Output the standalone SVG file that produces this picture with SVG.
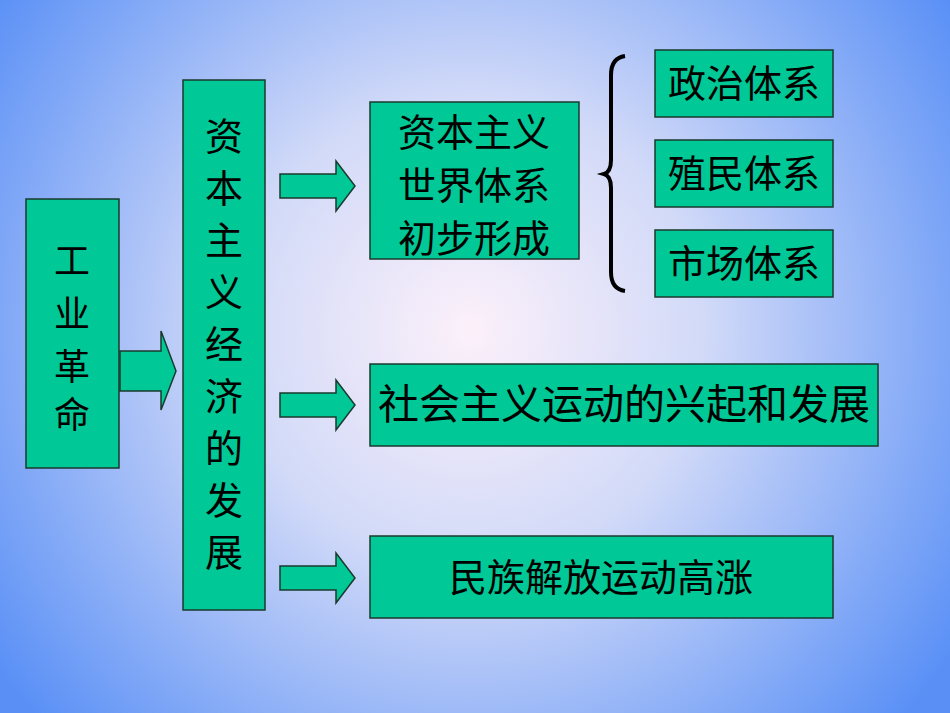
<svg xmlns="http://www.w3.org/2000/svg" width="950" height="713" viewBox="0 0 950 713">
<defs>
<radialGradient id="bg" cx="470" cy="330" r="580" gradientUnits="userSpaceOnUse">
<stop offset="0" stop-color="#fcf0fa"/>
<stop offset="0.4" stop-color="#d2daf8"/>
<stop offset="1" stop-color="#5a90f6"/>
</radialGradient>
<style>
.b{fill:#00c896;stroke:#1a3a2e;stroke-width:1.5}
.t{font-family:"Noto Sans CJK SC","Liberation Sans",sans-serif;font-size:38px;fill:#000;text-anchor:middle}
.w{font-size:41px}
.s{font-size:36px}
</style>
</defs>
<rect width="950" height="713" fill="url(#bg)"/>
<g id="connectors">
<path class="b" d="M120,351 H161 V331 L176,371 L161,410 V391 H120 Z"/>
<path class="b" d="M280,174 H336 V161 L355,186 L336,211 V198 H280 Z"/>
<path class="b" d="M280,393 H336 V380 L355,405 L336,430 V417 H280 Z"/>
<path class="b" d="M280,566 H336 V553 L355,578 L336,603 V590 H280 Z"/>
<path d="M625,56 Q611,58 611,75 V160 Q611,172 604,174 Q611,176 611,188 V272 Q611,289 625,291" fill="none" stroke="#000" stroke-width="4"/>
</g>
<g id="n1"><rect class="b" x="26" y="199" width="93" height="269"/>
<text class="t s" x="72" y="274">工</text><text class="t s" x="72" y="327">业</text><text class="t s" x="72" y="380">革</text><text class="t s" x="72" y="428">命</text></g>
<g id="n2"><rect class="b" x="183" y="80" width="82" height="530"/>
<text class="t" x="224" y="150">资</text><text class="t" x="224" y="202">本</text><text class="t" x="224" y="254">主</text><text class="t" x="224" y="306">义</text><text class="t" x="224" y="358">经</text><text class="t" x="224" y="410">济</text><text class="t" x="224" y="462">的</text><text class="t" x="224" y="514">发</text><text class="t" x="224" y="566">展</text></g>
<g id="n3"><rect class="b" x="370" y="102" width="209" height="157"/>
<text class="t" x="474" y="146">资本主义</text><text class="t" x="474" y="199">世界体系</text><text class="t" x="474" y="252">初步形成</text></g>
<g id="n4"><rect class="b" x="655" y="50" width="178" height="67"/><text class="t" x="744" y="97">政治体系</text></g>
<g id="n5"><rect class="b" x="655" y="140" width="178" height="67"/><text class="t" x="744" y="187">殖民体系</text></g>
<g id="n6"><rect class="b" x="655" y="230" width="178" height="67"/><text class="t" x="744" y="277">市场体系</text></g>
<g id="n7"><rect class="b" x="370" y="364" width="508" height="82"/><text class="t w" x="624" y="419">社会主义运动的兴起和发展</text></g>
<g id="n8"><rect class="b" x="370" y="536" width="463" height="82"/><text class="t" x="601" y="591">民族解放运动高涨</text></g>
</svg>
